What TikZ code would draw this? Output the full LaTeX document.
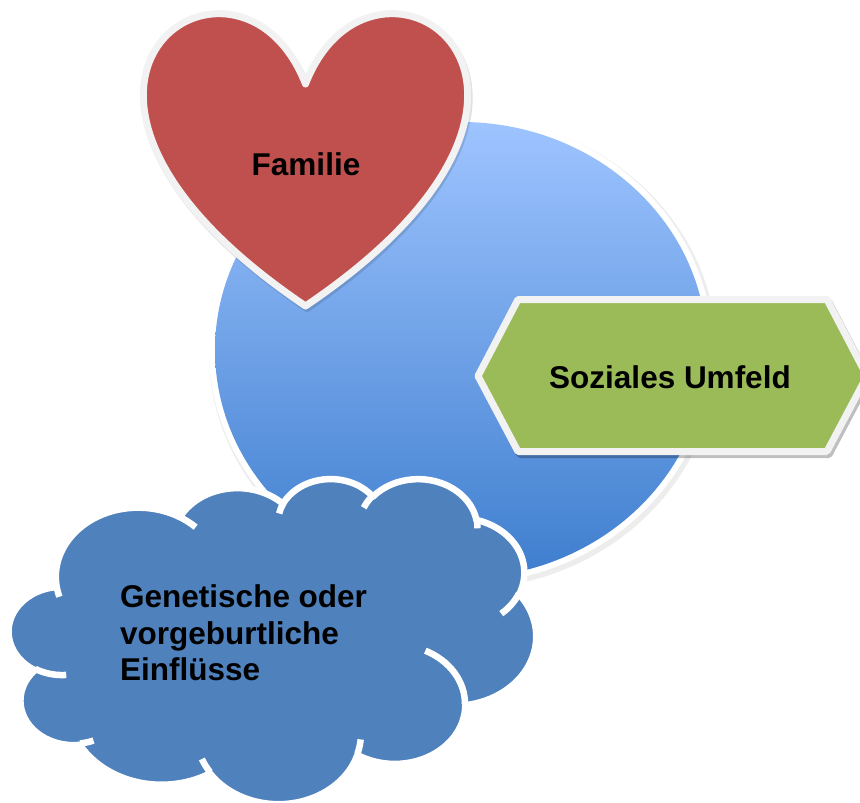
\documentclass[tikz,border=0pt]{standalone}
\usepackage{fontspec}
\setmainfont{Liberation Sans}
\definecolor{heartred}{RGB}{192,80,77}
\definecolor{hexgreen}{RGB}{155,187,89}
\definecolor{cloudblue}{RGB}{79,129,189}
\definecolor{edgegray}{RGB}{242,242,242}
\definecolor{circtop}{RGB}{158,196,255}
\definecolor{circbot}{RGB}{62,126,206}
% cloud frame: origin (CXo,CYo), size 527 x 325; path units in thousandths of 43200
\def\CXo{9}\def\CYo{478}\def\SXk{12.19907}\def\SYk{7.523148}
\def\heartpath{(305.5,-84) .. controls (372.6,88.7) and (634.2,-84) .. (305.5,-306) .. controls (-23.2,-84) and (238.4,88.7) .. (305.5,-84) -- cycle}
\def\hexpath{(478,-376) -- (518,-299.5) -- (827,-299.5) -- (867,-376) -- (827,-451.5) -- (518,-451.5) -- cycle}
\begin{document}
\begin{tikzpicture}[x=1pt,y=1pt,
  declare function={cp(\ca,\cb,\cc)=atan2(\ca*sin(\cc),\cb*cos(\cc));},
  lbl/.style={font=\fontsize{31.5}{36.5}\selectfont\bfseries, text=black, inner sep=0pt},
  edgeline/.style={draw=edgegray, line width=7pt, line join=round},
  softshadow/.style={draw=black, fill=black, line width=7pt, line join=round, opacity=0.12},
  cloudarc/.style={start angle={-cp(\wr,\hr,\st)},
    end angle={-cp(\wr,\hr,\st)-mod(cp(\wr,\hr,\st+\sw)-cp(\wr,\hr,\st)+720,360)},
    x radius={\wr*\SXk}, y radius={\hr*\SYk}},
]
\useasboundingbox (0,0) rectangle (860,-803);

% central circle
\fill[black, opacity=0.07] (463,-353) ellipse [x radius=254, y radius=236];
\fill[white] (461,-350) ellipse [x radius=252, y radius=234];
\shade[top color=circtop, bottom color=circbot] (461,-350) ellipse [x radius=246, y radius=228];

% heart
\begin{scope}[shift={(1.5,-2.5)}]
\path[softshadow] \heartpath;
\end{scope}
\path[fill=heartred, edgeline] \heartpath;
\node[lbl, anchor=base] (familie) at (306,-175) {Familie};

% hexagon
\begin{scope}[shift={(2,-3)}]
\path[softshadow, opacity=0.25] \hexpath;
\end{scope}
\path[fill=hexgreen, edgeline] \hexpath;
\node[lbl, anchor=base] (umfeld) at (670,-388) {Soziales Umfeld};

% cloud
\path[fill=cloudblue, draw=white, line width=6.5pt, line join=round]
  ({\CXo+3.9*\SXk},{-\CYo-14.37*\SYk})
  \foreach \wr/\hr/\st/\sw in {6.753/9.190/-190.4875/123.7805, 5.333/7.267/-144.1024/89.9452,
     4.365/5.945/-145.8079/99.7230, 4.857/6.595/-130.9861/117.2417, 5.333/7.273/-78.7089/109.0269,
     6.775/9.220/-46.2673/130.2690, 5.785/7.867/0.6250/114.0333, 6.752/9.215/22.4516/115.1726,
     7.720/10.543/66.2426/75.7110, 4.360/5.918/-274.9421/146.7356, 4.345/5.945/-246.8285/152.5189}
  { arc[cloudarc] } -- cycle;
\draw[white, line width=6.5pt]
  \foreach \mx/\my/\wr/\hr/\st/\sw in {4.693/26.177/4.345/5.945/86.7420/26.4295,
     6.928/34.899/4.360/5.918/73.6105/11.4475, 16.478/39.090/6.752/9.215/137.6242/14.0811,
     28.827/34.751/6.752/9.215/6.4533/15.9984, 34.129/22.954/5.785/7.867/-70.2924/70.9174,
     41.798/15.354/5.333/7.273/30.3180/27.7515, 38.324/5.426/4.857/6.595/-13.7443/14.8589,
     29.078/3.952/4.857/6.595/-149.1815/18.1954, 22.141/4.720/4.365/5.945/-163.4943/17.6864,
     14.000/5.192/6.753/9.190/-66.7070/12.3194, 4.127/15.789/6.753/9.190/157.6544/11.8582}
  { ({\CXo+\mx*\SXk},{-\CYo-\my*\SYk}) arc[cloudarc] };
\node[lbl, anchor=west, align=left] (einfluss) at (120,-633)
  {Genetische oder\\vorgeburtliche\\Einflüsse};
\end{tikzpicture}
\end{document}
